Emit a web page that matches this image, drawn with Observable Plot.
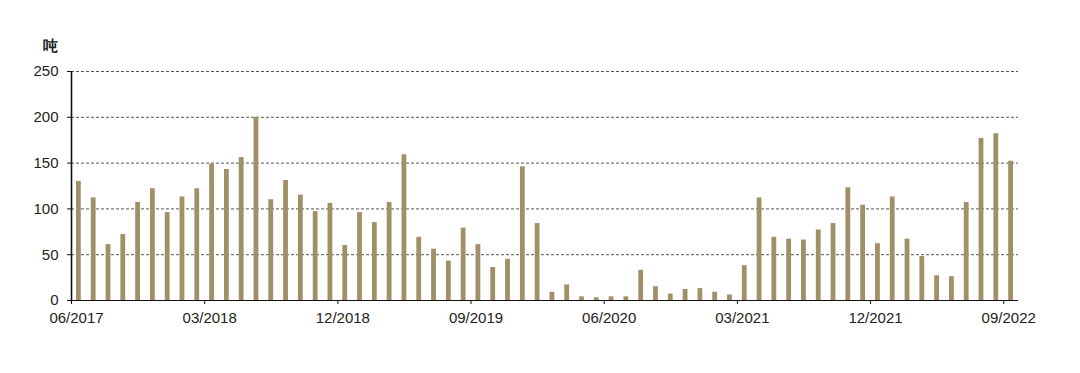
<!DOCTYPE html>
<html>
<head>
<meta charset="utf-8">
<script src="https://cdn.jsdelivr.net/npm/d3@7"></script>
<script src="https://cdn.jsdelivr.net/npm/@observablehq/plot@0.6"></script>
<style>
  html, body { margin: 0; padding: 0; background: #fff; }
  #chart { width: 1080px; height: 373px; }
</style>
</head>
<body>
<div id="chart"></div>
<script>
const months = [
  "06/2017","07/2017","08/2017","09/2017","10/2017","11/2017","12/2017",
  "01/2018","02/2018","03/2018","04/2018","05/2018","06/2018","07/2018","08/2018","09/2018","10/2018","11/2018","12/2018",
  "01/2019","02/2019","03/2019","04/2019","05/2019","06/2019","07/2019","08/2019","09/2019","10/2019","11/2019","12/2019",
  "01/2020","02/2020","03/2020","04/2020","05/2020","06/2020","07/2020","08/2020","09/2020","10/2020","11/2020","12/2020",
  "01/2021","02/2021","03/2021","04/2021","05/2021","06/2021","07/2021","08/2021","09/2021","10/2021","11/2021","12/2021",
  "01/2022","02/2022","03/2022","04/2022","05/2022","06/2022","07/2022","08/2022","09/2022"
];
const values = [
  130,112,61,72,107,122,96,113,122,149,
  143,156,200,110,131,115,97,106,60,96,
  85,107,159,69,56,43,79,61,36,45,
  146,84,9,17,4,3,4,4,33,15,
  7,12,13,9,6,38,112,69,67,66,
  77,84,123,104,62,113,67,48,27,26,
  107,177,182,152
];
const tickLabels = ["06/2017","03/2018","12/2018","09/2019","06/2020","03/2021","12/2021","09/2022"];
const yTicks = [0, 50, 100, 150, 200, 250];
const unitLabel = "吨";

const data = months.map((m, i) => ({month: m, i, value: values[i]}));
const tickIdx = tickLabels.map(t => months.indexOf(t));

const chart = Plot.plot({
  width: 1080,
  height: 373,
  marginLeft: 71,
  marginRight: 62,
  marginTop: 71,
  marginBottom: 73,
  style: {fontFamily: "'Liberation Sans', Arial, sans-serif", fontSize: "15px", color: "#222", background: "#fff"},
  x: {type: "linear", domain: [0, months.length], axis: null},
  y: {domain: [0, 250], axis: null},
  marks: [
    Plot.ruleY(yTicks.filter(d => d > 0), {stroke: "#555", strokeWidth: 1, strokeDasharray: "3,2"}),
    Plot.rectY(data, {x1: "i", x2: d => d.i + 1, y: "value", fill: "#a09068", insetLeft: 5, insetRight: 5}),
    Plot.ruleY([0], {stroke: "#111", strokeWidth: 1.2}),
    Plot.ruleX([0], {stroke: "#111", strokeWidth: 1.6}),
    Plot.axisX(tickIdx, {tickSize: 4, text: null, stroke: "#111", label: null}),
    Plot.axisX(tickIdx, {tickSize: 0, tickPadding: 12, tickFormat: i => months[i], dx: 5, fontSize: 15, label: null}),
    Plot.axisY(yTicks, {tickSize: 4, tickPadding: 9, fontSize: 15, stroke: "#111", label: null}),
    Plot.text([unitLabel], {frameAnchor: "top-left", dx: -29, dy: -31, fontSize: 15, fontWeight: "bold", fill: "#222"})
  ]
});
document.getElementById("chart").appendChild(chart);
</script>
</body>
</html>
